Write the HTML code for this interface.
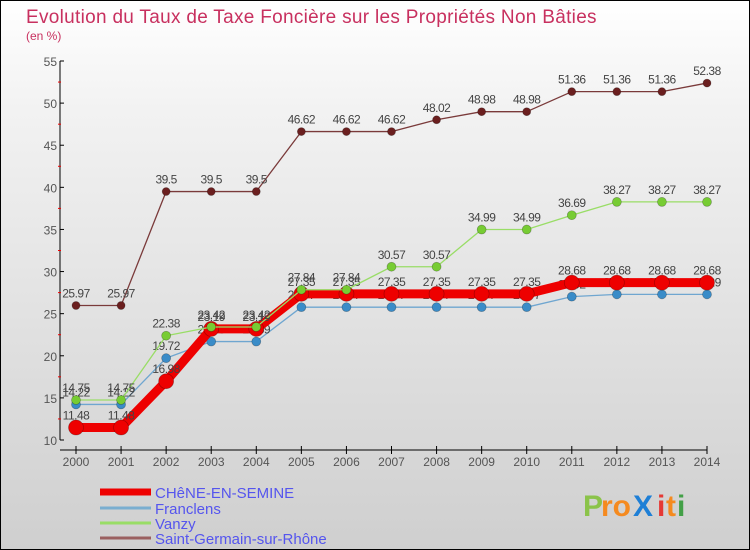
<!DOCTYPE html>
<html><head><meta charset="utf-8"><style>
body{margin:0;}
#wrap{width:750px;height:550px;position:relative;overflow:hidden;background:linear-gradient(#ffffff,#f2f2f2 20%,#cfcfcf);font-family:"Liberation Sans",sans-serif;}
#frame{position:absolute;left:0;top:0;width:748px;height:548px;border:1px solid #000;}
</style></head><body>
<div id="wrap">
<div id="frame"></div>
<svg id="chart" width="750" height="550" style="position:absolute;left:0;top:0">
<text x="26" y="23" font-size="19" fill="#c8305f" letter-spacing="0.3">Evolution du Taux de Taxe Foncière sur les Propriétés Non Bâties</text>
<text x="26" y="40" font-size="12" fill="#c8305f">(en %)</text>
<g id="axes"></g><g id="series"></g><g id="legend"></g>
<g font-size="30" font-weight="bold">
<text x="583" y="516" fill="#8bc34a">P</text><text x="601" y="516" fill="#f58a1f">ro</text><text x="633" y="516" fill="#1e7fd6">X</text><text x="657" y="516" fill="#e53935">i</text><text x="666" y="516" fill="#f58a1f">t</text><text x="677" y="516" fill="#43a047">i</text>
</g>
</svg></div>
<script>
const years=[2000,2001,2002,2003,2004,2005,2006,2007,2008,2009,2010,2011,2012,2013,2014];
const chene=[11.48,11.48,16.98,23.19,23.19,27.35,27.35,27.35,27.35,27.35,27.35,28.68,28.68,28.68,28.68];
const franclens=[14.22,14.22,19.72,21.69,21.69,25.77,25.77,25.77,25.77,25.77,25.77,27.02,27.29,27.29,27.29];
const vanzy=[14.75,14.75,22.38,23.42,23.42,27.84,27.84,30.57,30.57,34.99,34.99,36.69,38.27,38.27,38.27];
const stgermain=[25.97,25.97,39.5,39.5,39.5,46.62,46.62,46.62,48.02,48.98,48.98,51.36,51.36,51.36,52.38];
const yTicks=[10,15,20,25,30,35,40,45,50,55];
const NS="http://www.w3.org/2000/svg";
const x=i=>76+i*(707-76)/(years.length-1);
const y=v=>440-(v-10)*(440-61)/45;
function mk(tag,attrs,parent){const e=document.createElementNS(NS,tag);for(const k in attrs)e.setAttribute(k,attrs[k]);parent.appendChild(e);return e;}
const axes=document.getElementById('axes');
let yl=mk('line',{x1:60,y1:61,x2:60,y2:440,stroke:'#000'},axes);


yTicks.forEach((t,i)=>{
  mk('line',{x1:60,y1:y(t),x2:64,y2:y(t),stroke:'#000'},axes);
  if(i<yTicks.length-1)mk('line',{x1:58,y1:y(t+2.5),x2:61,y2:y(t+2.5),stroke:'#e00'},axes);
  const tx=mk('text',{x:57,y:y(t)+5,'font-size':12,'text-anchor':'end',fill:'#555'},axes);tx.textContent=t;
  
  
});
let xl=mk('line',{x1:60,y1:450,x2:707,y2:450,stroke:'#000'},axes);


years.forEach((yr,i)=>{
  mk('line',{x1:x(i),y1:446,x2:x(i),y2:454,stroke:'#000'},axes);
  const tx=mk('text',{x:x(i),y:466,'font-size':12,'text-anchor':'middle',fill:'#555'},axes);tx.textContent=yr;
  
  
});
const sg=document.getElementById('series');
function draw(data,color,w,r,name,dot){
  const g=mk('g',{},sg);
  
  
  mk('polyline',{points:data.map((v,i)=>x(i)+','+y(v)).join(' '),fill:'none',stroke:color,'stroke-width':w,'stroke-linejoin':'round'},g);
  data.forEach((v,i)=>{
    const c=mk('circle',{cx:x(i),cy:y(v),r:r,fill:dot,stroke:'rgba(0,0,0,0.3)','stroke-width':0.7},g);
    
    
    const t=mk('text',{x:x(i),y:y(v)-8,'font-size':12,'text-anchor':'middle',fill:'#444','letter-spacing':'-0.5'},g);t.textContent=v;
    
    
  });
}
draw(stgermain,'#7a3a3a',1.3,4,'series-saint-germain','#6b1f1f');
draw(franclens,'#6fa6d0',1.3,4.5,'series-franclens','#3a8cc8');
draw(chene,'#ee0000',9,7.5,'series-chene-en-semine','#ee0000');
draw(vanzy,'#99dd66',1.3,4.5,'series-vanzy','#77cc33');
const lg=document.getElementById('legend');
const names=['CHêNE-EN-SEMINE','Franclens','Vanzy','Saint-Germain-sur-Rhône'];
const cols=['#ee0000','#7aaed0','#99dd66','#9a6060'];
const ws=[7,3,3,3];
const ly=[492,508,523,538];
names.forEach((n,i)=>{
  const g=mk('g',{},lg);
  
  
  mk('line',{x1:100,y1:ly[i],x2:151,y2:ly[i],stroke:cols[i],'stroke-width':ws[i]},g);
  const t=mk('text',{x:155,y:ly[i]+6,'font-size':15,fill:'#5555ee'},g);t.textContent=n;
});
</script>
</body></html>
